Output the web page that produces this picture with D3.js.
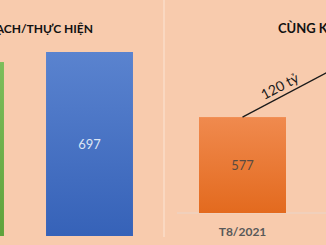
<!DOCTYPE html>
<html>
<head>
<meta charset="utf-8">
<script src="https://cdn.jsdelivr.net/npm/d3@7"></script>
<style>
    body { margin: 0; background: #F8CBAD; }
    svg { display: block; font-family: Lato, "Open Sans", sans-serif; }
</style>
</head>
<body>
<svg width="326" height="245"></svg>
<script>
/***************************************************************
    Data
****************************************************************/
const leftCats = ["KẾ HOẠCH", "THỰC HIỆN"];
const leftVals = [659, 697];
const leftTitle = "KẾ HOẠCH/THỰC HIỆN";

const rightCats = ["T8/2021", "T8/2022"];
const rightVals = [577, 697];
const rightTitle = "CÙNG KỲ";
const diffLabel = "120 tỷ";

/***************************************************************
    Drawing
****************************************************************/
const svg = d3.select("svg");
const defs = svg.append("defs");

function addGradient(id, top, bottom) {
    let g = defs.append("linearGradient").attr("id", id)
        .attr("x1", 0).attr("y1", 0).attr("x2", 0).attr("y2", 1);
    g.append("stop").attr("offset", "0%").attr("stop-color", top);
    g.append("stop").attr("offset", "100%").attr("stop-color", bottom);
}
addGradient("g-green", "#7DBE5B", "#5EA33B");
addGradient("g-blue", "#5A83CF", "#3662B8");
addGradient("g-orange", "#F08A4E", "#E36A1E");

svg.append("rect").attr("width", 326).attr("height", 245).attr("fill", "#F8CBAD");

// panel divider
svg.append("line").attr("x1", 164).attr("x2", 164).attr("y1", 0).attr("y2", 237)
    .attr("stroke", "#FBDCC8").attr("stroke-width", 1.5);

// left panel
var xL = d3.scaleBand().domain(leftCats).range([-104, 154]).paddingInner(0.326).paddingOuter(0.163);
var yL = d3.scaleLinear().domain([0, 894]).range([236, 0]);
var leftFills = ["url(#g-green)", "url(#g-blue)"];

svg.append("g").selectAll("rect").data(leftVals).enter().append("rect")
    .attr("x", (d, i) => xL(leftCats[i]))
    .attr("y", d => yL(d))
    .attr("width", xL.bandwidth())
    .attr("height", d => yL(0) - yL(d))
    .attr("fill", (d, i) => leftFills[i]);

svg.append("text").attr("x", xL(leftCats[1]) + xL.bandwidth() / 2)
    .attr("y", (yL(leftVals[1]) + yL(0)) / 2 + 5)
    .attr("text-anchor", "middle").attr("font-size", 13).attr("fill", "#DCE5F4")
    .text(leftVals[1]);

svg.append("text").attr("x", 93).attr("y", 33).attr("text-anchor", "end")
    .attr("font-size", 12).attr("font-weight", "bold").attr("fill", "#111")
    .text(leftTitle);

// right panel
var xR = d3.scaleBand().domain(rightCats).range([179, 433]).paddingInner(0.315).paddingOuter(0.1575);
var yR = d3.scaleLinear().domain([405, 787]).range([213, 0]);

svg.append("line").attr("x1", 177).attr("x2", 326).attr("y1", 213).attr("y2", 213)
    .attr("stroke", "#EAD6CA").attr("stroke-width", 1.2);

svg.append("g").selectAll("rect").data(rightVals).enter().append("rect")
    .attr("x", (d, i) => xR(rightCats[i]))
    .attr("y", d => yR(d))
    .attr("width", xR.bandwidth())
    .attr("height", d => yR(405) - yR(d))
    .attr("fill", "url(#g-orange)");

svg.append("text").attr("x", xR(rightCats[0]) + xR.bandwidth() / 2)
    .attr("y", (yR(rightVals[0]) + yR(405)) / 2 + 5)
    .attr("text-anchor", "middle").attr("font-size", 13).attr("fill", "#594A40")
    .text(rightVals[0]);

svg.append("text").attr("x", xR(rightCats[0]) + xR.bandwidth() / 2).attr("y", 236)
    .attr("text-anchor", "middle").attr("font-size", 12).attr("font-weight", "bold").attr("fill", "#595959")
    .text(rightCats[0]);

svg.append("text").attr("x", 278).attr("y", 33)
    .attr("font-size", 13).attr("font-weight", "bold").attr("fill", "#111")
    .text(rightTitle);

// growth line
var p0 = [xR(rightCats[0]) + xR.bandwidth() / 2, yR(rightVals[0])];
var p1 = [xR(rightCats[1]) + xR.bandwidth() / 2, yR(rightVals[1])];
svg.append("line").attr("x1", p0[0]).attr("y1", p0[1]).attr("x2", p1[0]).attr("y2", p1[1])
    .attr("stroke", "#1a1a1a").attr("stroke-width", 1.3);

var ang = Math.atan2(p1[1] - p0[1], p1[0] - p0[0]) * 180 / Math.PI;
var t = 0.33;
var mx = p0[0] + (p1[0] - p0[0]) * t, my = p0[1] + (p1[1] - p0[1]) * t;
svg.append("text").attr("transform", "translate(" + mx + "," + my + ") rotate(" + ang + ")")
    .attr("y", -5).attr("text-anchor", "middle").attr("font-size", 14).attr("fill", "#1a1a1a")
    .text(diffLabel);
</script>
</body>
</html>
